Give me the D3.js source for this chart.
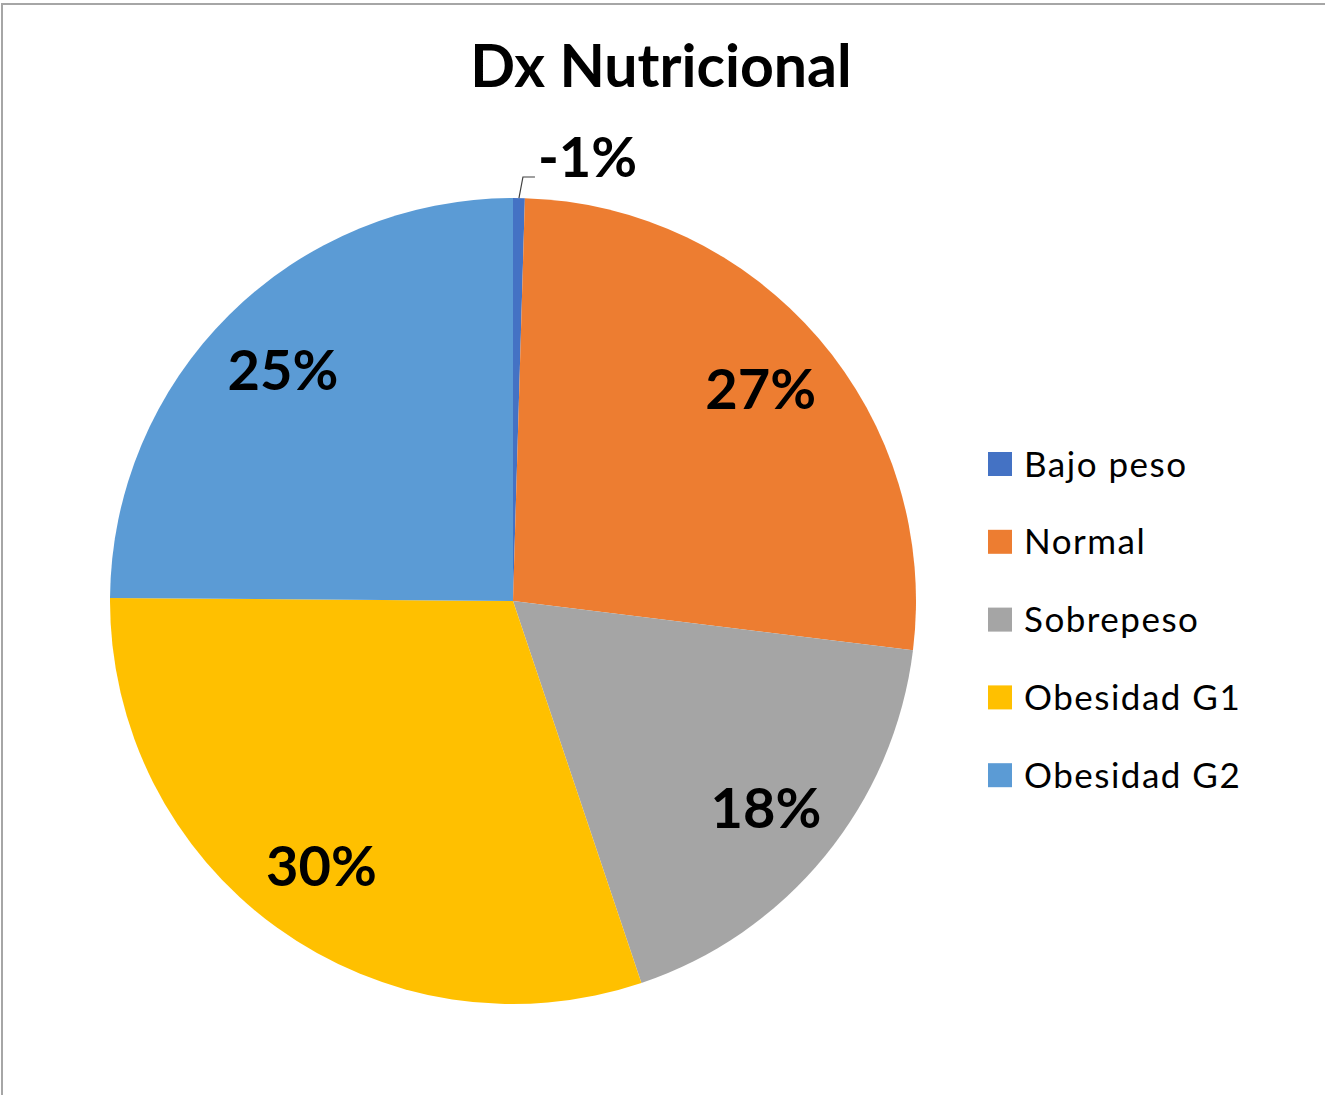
<!DOCTYPE html>
<html>
<head>
<meta charset="utf-8">
<script src="https://cdn.jsdelivr.net/npm/d3@7"></script>
<style>
  body { margin: 0; background: #fff; }
  svg { display: block; font-family: Lato, "Noto Sans", sans-serif; }
</style>
</head>
<body>
<div id="chart"></div>
<script>
const categories = ["Bajo peso", "Normal", "Sobrepeso", "Obesidad G1", "Obesidad G2"];
const values = [0.47, 26.5, 17.9, 30.3, 24.9];
const labels = ["-1%", "27%", "18%", "30%", "25%"];
const colors = ["#4472C4", "#ED7D31", "#A5A5A5", "#FFC000", "#5B9BD5"];
const title = "Dx Nutricional";

const width = 1325, height = 1095;
const cx = 513, cy = 601, radius = 403;

const svg = d3.select("#chart").append("svg")
  .attr("width", width)
  .attr("height", height);

// frame (only top and left edges show in the original)
svg.append("path")
  .attr("d", `M2,${height} L2,4 L${width},4`)
  .attr("fill", "none")
  .attr("stroke", "#a6a6a6")
  .attr("stroke-width", 2);

svg.append("text")
  .attr("x", 661)
  .attr("y", 87)
  .attr("text-anchor", "middle")
  .attr("font-size", 59)
  .attr("font-weight", "bold")
  .text(title);

const data = categories.map((c, i) => ({ name: c, value: values[i], label: labels[i], color: colors[i] }));

const pie = d3.pie().sort(null).value((d) => d.value);
const arcs = pie(data);
const arc = d3.arc().innerRadius(0).outerRadius(radius);
const labelArc = d3.arc().innerRadius(radius * 0.81).outerRadius(radius * 0.81);

const g = svg.append("g").attr("transform", `translate(${cx},${cy})`);

g.selectAll(".slice")
  .data(arcs)
  .join("path")
  .attr("class", "slice")
  .attr("d", arc)
  .attr("fill", (d) => d.data.color);

// big slices: label inside
g.selectAll(".slice-label")
  .data(arcs.filter((d) => d.endAngle - d.startAngle > 0.2))
  .join("text")
  .attr("class", "slice-label")
  .attr("transform", (d) => `translate(${labelArc.centroid(d)})`)
  .attr("text-anchor", "middle")
  .attr("dy", "0.36em")
  .attr("font-size", 56)
  .attr("font-weight", "bold")
  .text((d) => d.data.label);

// tiny slice: label outside with leader line
arcs.filter((d) => d.endAngle - d.startAngle <= 0.2).forEach((d) => {
  const a = (d.startAngle + d.endAngle) / 2;
  const p0 = [radius * Math.sin(a), -radius * Math.cos(a)];
  const p1 = [p0[0] + 4, -(radius + 21)];
  const p2 = [p1[0] + 12, p1[1]];
  g.append("polyline")
    .attr("points", [p0, p1, p2].map((p) => p.join(",")).join(" "))
    .attr("fill", "none")
    .attr("stroke", "#404040")
    .attr("stroke-width", 1.2);
  g.append("text")
    .attr("x", p2[0] + 3)
    .attr("y", p2[1])
    .attr("font-size", 56)
    .attr("font-weight", "bold")
    .text(d.data.label);
});

const legend = svg.append("g").attr("transform", "translate(988,464)");
const item = legend.selectAll(".legend-item")
  .data(data)
  .join("g")
  .attr("class", "legend-item")
  .attr("transform", (d, i) => `translate(0,${i * 77.8})`);
item.append("rect")
  .attr("x", 0)
  .attr("y", -12)
  .attr("width", 24)
  .attr("height", 24)
  .attr("fill", (d) => d.color);
item.append("text")
  .attr("x", 36)
  .attr("dy", "0.36em")
  .attr("font-size", 35)
  .attr("letter-spacing", 1.5)
  .text((d) => d.name);
</script>
</body>
</html>
